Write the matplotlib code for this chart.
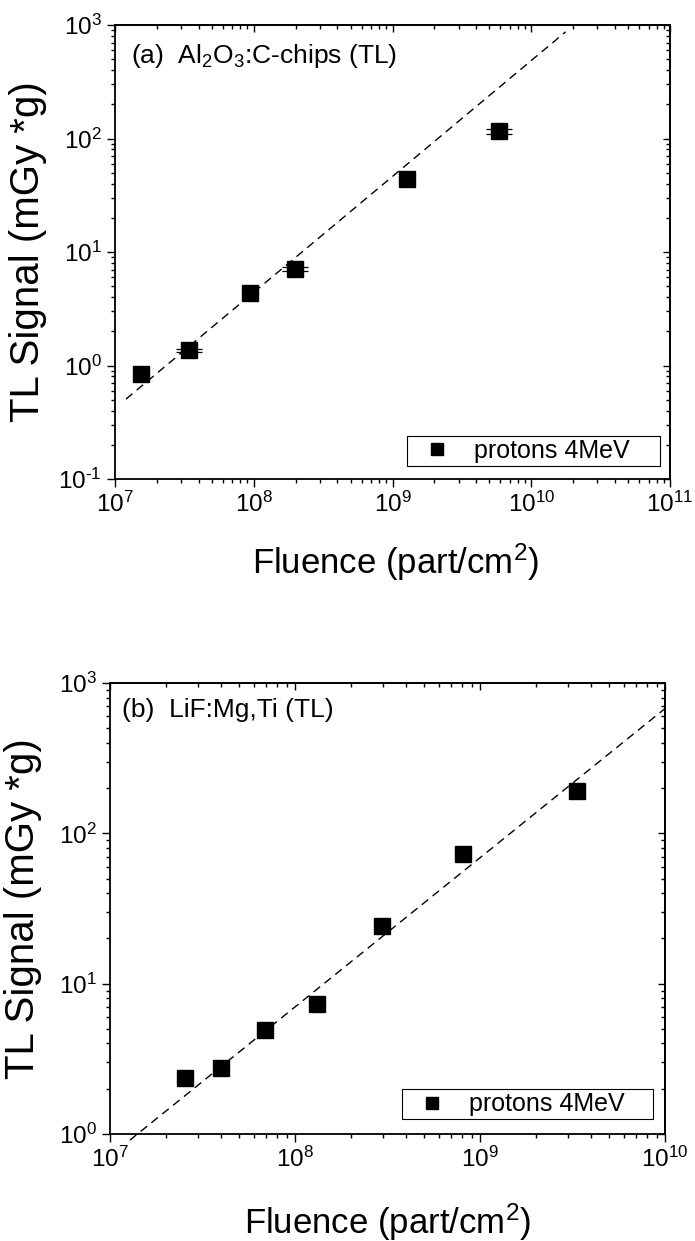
import matplotlib
matplotlib.use('Agg')
import matplotlib.pyplot as plt
from matplotlib.ticker import NullFormatter, FuncFormatter
import numpy as np

plt.rcParams['font.family'] = ['Liberation Sans', 'DejaVu Sans']
plt.rcParams['mathtext.fontset'] = 'custom'
plt.rcParams['mathtext.rm'] = 'Liberation Sans'
plt.rcParams['mathtext.it'] = 'Liberation Sans:italic'
plt.rcParams['mathtext.bf'] = 'Liberation Sans:bold'
plt.rcParams['mathtext.default'] = 'regular'

# ---- data: panel (a) Al2O3:C-chips ----
a_fluence = [1.53e7, 3.42e7, 9.46e7, 1.98e8, 1.28e9, 5.86e9]
a_signal = [0.84, 1.36, 4.34, 7.12, 43.6, 116.0]
a_err_rel = [0.0, 0.03, 0.0, 0.04, 0.0, 0.05]
a_fit_x = [1.2e7, 1.77e10]
a_fit_y = [0.506, 871.0]

# ---- data: panel (b) LiF:Mg,Ti ----
b_fluence = [2.55e7, 4.0e7, 6.87e7, 1.32e8, 2.94e8, 8.1e8, 3.34e9]
b_signal = [2.37, 2.76, 4.91, 7.29, 24.3, 72.5, 191.0]
b_fit_x = [1.28e7, 1.0e10]
b_fit_y = [0.91, 676.0]

legend_label = "protons 4MeV"
xlabel = "Fluence (part/cm$^2$)"
ylabel = "TL Signal (mGy *g)"

fig = plt.figure(figsize=(6.95, 12.41), dpi=100)
ax1 = fig.add_axes([115/695, 1-479/1241, 555/695, 454/1241])
ax2 = fig.add_axes([110/695, 1-1134/1241, 555/695, 451/1241])


def pow_fmt(v, pos):
    if v <= 0:
        return ""
    e = int(round(np.log10(v)))
    if e < 0:
        return r"$10^{\text{-%d}}$" % (-e)
    return r"$10^{%d}$" % e


def style(ax, xlim, ylim):
    ax.set_xscale('log')
    ax.set_yscale('log')
    ax.set_xlim(*xlim)
    ax.set_ylim(*ylim)
    ax.xaxis.set_major_formatter(FuncFormatter(pow_fmt))
    ax.yaxis.set_major_formatter(FuncFormatter(pow_fmt))
    ax.xaxis.set_minor_formatter(NullFormatter())
    ax.yaxis.set_minor_formatter(NullFormatter())
    ax.tick_params(which='both', direction='out', top=False, right=False,
                   labelsize=17.5, width=1.0, colors='black')
    ax.tick_params(which='major', length=5.5, pad=4)
    ax.tick_params(which='minor', length=3.2)
    for s in ax.spines.values():
        s.set_linewidth(1.3)
    sx = ax.secondary_xaxis('top')
    sx.tick_params(which='both', direction='in', width=1.0)
    sx.tick_params(which='major', length=5)
    sx.tick_params(which='minor', length=3)
    sx.xaxis.set_major_formatter(NullFormatter())
    sx.xaxis.set_minor_formatter(NullFormatter())
    sx.spines['top'].set_linewidth(1.3)
    sy = ax.secondary_yaxis('right')
    sy.tick_params(which='both', direction='in', width=1.0)
    sy.tick_params(which='major', length=5)
    sy.tick_params(which='minor', length=3)
    sy.yaxis.set_major_formatter(NullFormatter())
    sy.yaxis.set_minor_formatter(NullFormatter())
    sy.spines['right'].set_linewidth(1.3)
    ax.set_xlabel(xlabel, fontsize=25)
    ax.set_ylabel(ylabel, fontsize=29)


def draw_legend(ax, x0, y0, w, h):
    leg = ax.legend(loc='center', bbox_to_anchor=(x0, y0, w, h), mode='expand',
                    borderaxespad=0, fontsize=18, frameon=True, fancybox=False,
                    edgecolor='black', framealpha=1, handlelength=2.2,
                    handletextpad=0.35, borderpad=0.12, markerscale=0.7)
    leg.get_frame().set_linewidth(0.8)


# ---- panel (a) ----
style(ax1, (1e7, 1e11), (1e-1, 1e3))
ax1.plot(a_fit_x, a_fit_y, color='black', lw=1.0, ls=(0, (6, 4)), zorder=2)
mask = [e > 0 for e in a_err_rel]
ex = [x for x, m in zip(a_fluence, mask) if m]
ey = [y for y, m in zip(a_signal, mask) if m]
ee = [y * e for y, e, m in zip(a_signal, a_err_rel, mask) if m]
ax1.errorbar(ex, ey, yerr=ee, fmt='none', ecolor='black', elinewidth=0.8,
             capsize=9.7, capthick=0.9, zorder=3)
ax1.plot(a_fluence, a_signal, ls='none', marker='s', ms=11.5, color='black',
         label=legend_label, zorder=4)
ax1.text(0.029, 0.916, "(a)  Al$_2$O$_3$:C-chips (TL)", transform=ax1.transAxes,
         fontsize=19, ha='left', va='baseline')
draw_legend(ax1, 0.526, 0.0286, 0.456, 0.068)
ax1.xaxis.set_label_coords(0.506, -0.138)
ax1.yaxis.set_label_coords(-0.122, 0.5)

# ---- panel (b) ----
style(ax2, (1e7, 1e10), (1e0, 1e3))
ax2.plot(b_fit_x, b_fit_y, color='black', lw=1.0, ls=(0, (6, 4)), zorder=2,
         clip_on=False)
ax2.plot(b_fluence, b_signal, ls='none', marker='s', ms=11.5, color='black',
         label=legend_label, zorder=4)
ax2.text(0.0216, 0.925, "(b)  LiF:Mg,Ti (TL)", transform=ax2.transAxes,
         fontsize=19, ha='left', va='baseline')
draw_legend(ax2, 0.526, 0.0333, 0.452, 0.0643)
ax2.xaxis.set_label_coords(0.5, -0.150)
ax2.yaxis.set_label_coords(-0.122, 0.5)

fig.savefig('out.png', dpi=100)
